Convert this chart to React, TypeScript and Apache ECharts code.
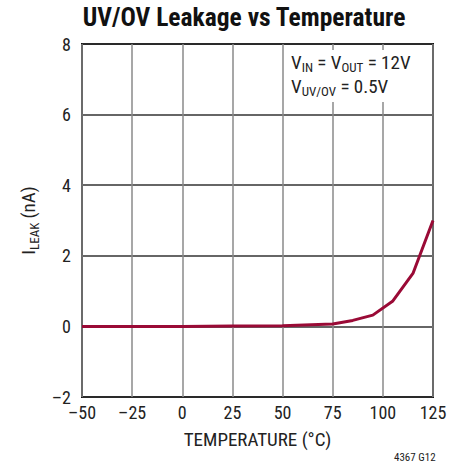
import React, { useEffect, useRef } from "react";
import * as echarts from "echarts";

const temperatures = [-50, -25, 0, 25, 50, 75, 85, 95, 105, 115, 125];
const leakage = [0, 0, 0, 0.01, 0.02, 0.07, 0.17, 0.32, 0.72, 1.5, 3.0];
const xTicks = { min: -50, max: 125, interval: 25 };
const yTicks = { min: -2, max: 8, interval: 2 };

const FONT = "'Liberation Sans Narrow', 'Roboto Condensed', 'Liberation Sans', sans-serif";

export default function App() {
  const ref = useRef<HTMLDivElement>(null);
  useEffect(() => {
    if (!ref.current) return;
    const chart = echarts.init(ref.current, null, { renderer: "svg" });
    const fmt = (v: number) => (v < 0 ? "\u2013" + Math.abs(v) : String(v));
    const legendRich = {
      m: { fontFamily: FONT, fontSize: 19, fill: "#222", lineHeight: 19, verticalAlign: "bottom" },
      s: { fontFamily: FONT, fontSize: 13, fill: "#222", lineHeight: 19, verticalAlign: "bottom", padding: [0, 0, -2, 0] },
    };
    chart.setOption({
      animation: false,
      backgroundColor: "#ffffff",
      grid: { left: 82, right: 30, top: 44, bottom: 71, show: true, borderColor: "#111", borderWidth: 2, backgroundColor: "transparent" },
      xAxis: {
        type: "value",
        min: xTicks.min,
        max: xTicks.max,
        interval: xTicks.interval,
        name: "TEMPERATURE (°C)",
        nameLocation: "middle",
        nameGap: 33,
        nameTextStyle: { fontFamily: FONT, fontSize: 19, color: "#222" },
        axisLine: { show: false },
        axisTick: { show: false },
        axisLabel: { fontFamily: FONT, fontSize: 18, color: "#222", margin: 6, formatter: fmt },
        splitLine: { show: true, lineStyle: { color: "#8a8a8a", width: 1.5 } },
      },
      yAxis: {
        type: "value",
        min: yTicks.min,
        max: yTicks.max,
        interval: yTicks.interval,
        name: "{m|I}{s|LEAK}{m| (nA)}",
        nameLocation: "middle",
        nameGap: 42,
        nameTextStyle: {
          fontFamily: FONT, color: "#222",
          rich: {
            m: { fontFamily: FONT, fontSize: 19, color: "#222", lineHeight: 24, verticalAlign: "bottom" },
            s: { fontFamily: FONT, fontSize: 13, color: "#222", lineHeight: 24, verticalAlign: "bottom", padding: [0, 0, -3, 0] },
          },
        },
        axisLine: { show: false },
        axisTick: { show: false },
        axisLabel: { fontFamily: FONT, fontSize: 18, color: "#222", margin: 11, formatter: fmt },
        splitLine: { show: true, lineStyle: { color: "#333", width: 1.5 } },
      },
      graphic: [
        {
          type: "text",
          x: 244,
          y: 4,
          style: {
            text: "UV/OV Leakage vs Temperature",
            fontFamily: FONT, fontWeight: "bold", fontSize: 25.5, fill: "#111",
            textAlign: "center",
          },
        },
        {
          type: "rect",
          shape: { x: 284, y: 50, width: 147, height: 52 },
          style: { fill: "#ffffff" },
          z: 10,
        },
        {
          type: "text",
          x: 291,
          y: 53,
          z: 11,
          style: { text: "{m|V}{s|IN}{m| = V}{s|OUT}{m| = 12V}", fontFamily: FONT, rich: legendRich },
        },
        {
          type: "text",
          x: 291,
          y: 77,
          z: 11,
          style: { text: "{m|V}{s|UV/OV}{m| = 0.5V}", fontFamily: FONT, rich: legendRich },
        },
        {
          type: "text",
          x: 394,
          y: 452,
          style: { text: "4367 G12", fontFamily: FONT, fontSize: 11, fill: "#222" },
        },
      ],
      series: [
        {
          type: "line",
          data: temperatures.map((t, i) => [t, leakage[i]]),
          showSymbol: false,
          lineStyle: { color: "#9a0a36", width: 3 },
          z: 5,
        },
      ],
    });
    return () => chart.dispose();
  }, []);
  return <div ref={ref} style={{ width: 463, height: 468, position: "absolute", left: 0, top: 0 }} />;
}
